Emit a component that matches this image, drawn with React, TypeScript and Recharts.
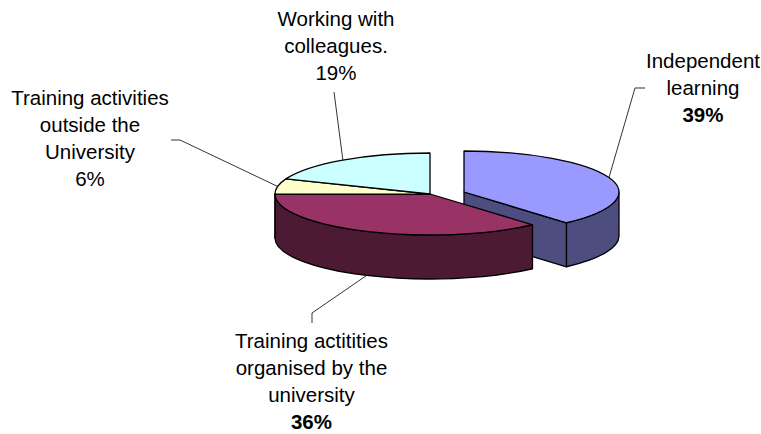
import React from 'react';
import { PieChart, Pie } from 'recharts';

// values, clockwise from 12 o'clock
const categories = [
  'Independent\nlearning',
  'Training actitities\norganised by the\nuniversity',
  'Training activities\noutside the\nUniversity',
  'Working with\ncolleagues.',
];
const shares = [38.5, 36.4, 6.1, 19];
const boldPercent = [true, true, false, false];

const topColors = ['#9999FF', '#993366', '#FFFFCC', '#CCFFFF'];
const sideColors = ['#4D4D80', '#4D1A33', '#80805F', '#608080'];

const chartData = categories.map((name, i) => ({ name, value: shares[i] }));

// fake 3D settings
const SQUASH = 41 / 155;
const DEPTH = 44;
const EXPLODE = { dx: 34, dy: -2 };
const FONT_SIZE = 20.5;
const LINE_GAP = 27;

// label block: centre x, first baseline, leader elbow, leader tail
const labelLayout = [
  { x: 703, y: 68, elbow: [635, 88], tail: [645, 88] },
  { x: 311.5, y: 348, elbow: [312, 313], tail: [312, 323] },
  { x: 90, y: 105, elbow: [180, 140], tail: [171, 140] },
  { x: 336, y: 26, elbow: [334, 92], tail: [334, 92] },
];

const RAD = Math.PI / 180;

function Slice(props: any) {
  const { cx, cy, outerRadius, startAngle, endAngle, index } = props;
  const rx = outerRadius;
  const ry = outerRadius * SQUASH;
  const exploded = index === 0;
  const ox = cx + (exploded ? EXPLODE.dx : 0);
  const oy = cy + (exploded ? EXPLODE.dy : 0);
  const px = (a: number) => ox + rx * Math.cos(a * RAD);
  const py = (a: number) => oy - ry * Math.sin(a * RAD);
  const large = Math.abs(startAngle - endAngle) > 180 ? 1 : 0;

  const top = `M${ox},${oy} L${px(startAngle)},${py(startAngle)} A${rx},${ry} 0 ${large} 1 ${px(endAngle)},${py(endAngle)} Z`;

  // outer wall: only the part of the rim on the front half
  const a0 = Math.min(startAngle, 0);
  const a1 = Math.max(endAngle, -180);
  const wall =
    a0 > a1
      ? `M${px(a0)},${py(a0)} A${rx},${ry} 0 0 1 ${px(a1)},${py(a1)} L${px(a1)},${py(a1) + DEPTH} A${rx},${ry} 0 0 0 ${px(a0)},${py(a0) + DEPTH} Z`
      : null;

  // cut face only shows on the pulled out slice
  const face = exploded
    ? `M${ox},${oy} L${px(endAngle)},${py(endAngle)} L${px(endAngle)},${py(endAngle) + DEPTH} L${ox},${oy + DEPTH} Z`
    : null;

  const common = { stroke: '#000', strokeWidth: 1.3, strokeLinejoin: 'round' as const };
  return (
    <g>
      {face && <path d={face} fill={sideColors[index]} {...common} />}
      {wall && <path d={wall} fill={sideColors[index]} {...common} />}
      <path d={top} fill={topColors[index]} {...common} />
    </g>
  );
}

function SliceLabel(props: any) {
  const { cx, cy, outerRadius, midAngle, index } = props;
  const rx = outerRadius;
  const ry = outerRadius * SQUASH;
  const layout = labelLayout[index];
  const ox = cx + (index === 0 ? EXPLODE.dx : 0);
  const oy = cy + (index === 0 ? EXPLODE.dy : 0);
  const sx = ox + rx * Math.cos(midAngle * RAD);
  const onFront = Math.sin(midAngle * RAD) < -0.5;
  const sy = oy - ry * Math.sin(midAngle * RAD) + (onFront ? DEPTH : 0);
  const lines = categories[index].split('\n');

  return (
    <g>
      <polyline
        points={`${sx},${sy} ${layout.elbow.join(',')} ${layout.tail.join(',')}`}
        fill="none"
        stroke="#000"
        strokeWidth={0.8}
      />
      <text
        textAnchor="middle"
        fontFamily="Liberation Sans, Arial, sans-serif"
        fontSize={FONT_SIZE}
        fill="#000"
      >
        {lines.map((line, i) => (
          <tspan key={i} x={layout.x} y={layout.y + i * LINE_GAP}>
            {line}
          </tspan>
        ))}
        <tspan
          x={layout.x}
          y={layout.y + lines.length * LINE_GAP}
          fontWeight={boldPercent[index] ? 'bold' : 'normal'}
        >
          {Math.round(shares[index])}%
        </tspan>
      </text>
    </g>
  );
}

export default function App() {
  return (
    <div style={{ position: 'absolute', left: 0, top: 0, width: 761, height: 434, background: '#fff' }}>
      <PieChart width={761} height={434} margin={{ top: 0, right: 0, bottom: 0, left: 0 }}>
        <Pie
          data={chartData}
          dataKey="value"
          nameKey="name"
          cx={430}
          cy={194}
          outerRadius={155}
          startAngle={90}
          endAngle={-270}
          paddingAngle={0}
          shape={Slice}
          label={SliceLabel}
          labelLine={false}
          isAnimationActive={false}
        />
      </PieChart>
    </div>
  );
}
